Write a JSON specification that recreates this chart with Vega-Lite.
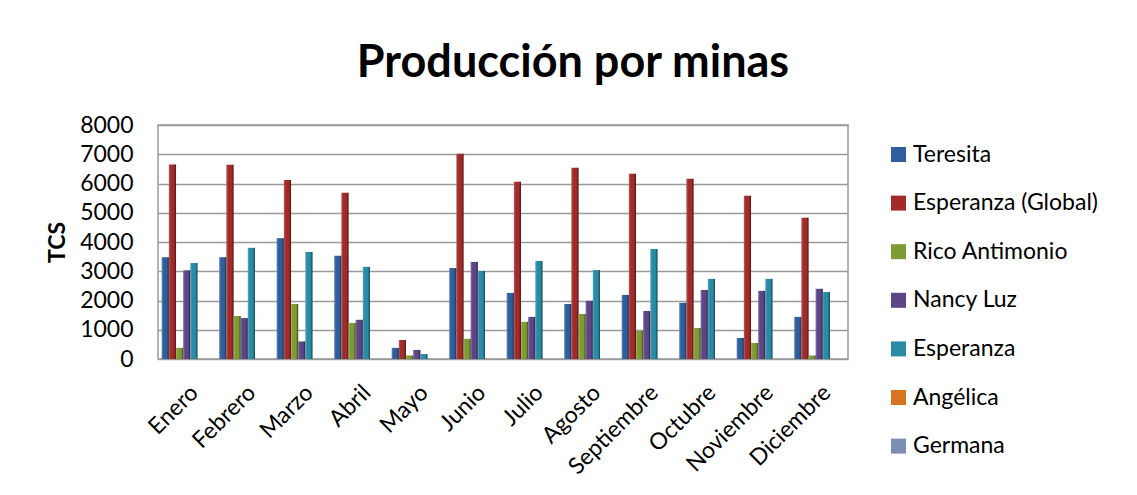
{
  "$schema": "https://vega.github.io/schema/vega-lite/v6.json",
  "autosize": {"type": "none"},
  "width": 690,
  "height": 234,
  "padding": {"left": 158, "top": 125, "right": 289, "bottom": 136},
  "background": "white",
  "title": {"text": "Producción por minas", "font": "Lato", "fontSize": 45, "fontWeight": "bold", "color": "#000000", "anchor": "middle", "frame": "group", "dx": 70, "offset": 28},
  "data": {"values": [
    {"mes":"Enero","mina":"Teresita","tcs":3480},{"mes":"Enero","mina":"Esperanza (Global)","tcs":6650},{"mes":"Enero","mina":"Rico Antimonio","tcs":380},{"mes":"Enero","mina":"Nancy Luz","tcs":3030},{"mes":"Enero","mina":"Esperanza","tcs":3280},{"mes":"Enero","mina":"Angélica","tcs":0},{"mes":"Enero","mina":"Germana","tcs":0},
    {"mes":"Febrero","mina":"Teresita","tcs":3480},{"mes":"Febrero","mina":"Esperanza (Global)","tcs":6640},{"mes":"Febrero","mina":"Rico Antimonio","tcs":1470},{"mes":"Febrero","mina":"Nancy Luz","tcs":1400},{"mes":"Febrero","mina":"Esperanza","tcs":3800},{"mes":"Febrero","mina":"Angélica","tcs":0},{"mes":"Febrero","mina":"Germana","tcs":0},
    {"mes":"Marzo","mina":"Teresita","tcs":4130},{"mes":"Marzo","mina":"Esperanza (Global)","tcs":6120},{"mes":"Marzo","mina":"Rico Antimonio","tcs":1880},{"mes":"Marzo","mina":"Nancy Luz","tcs":600},{"mes":"Marzo","mina":"Esperanza","tcs":3660},{"mes":"Marzo","mina":"Angélica","tcs":0},{"mes":"Marzo","mina":"Germana","tcs":0},
    {"mes":"Abril","mina":"Teresita","tcs":3530},{"mes":"Abril","mina":"Esperanza (Global)","tcs":5680},{"mes":"Abril","mina":"Rico Antimonio","tcs":1230},{"mes":"Abril","mina":"Nancy Luz","tcs":1340},{"mes":"Abril","mina":"Esperanza","tcs":3150},{"mes":"Abril","mina":"Angélica","tcs":0},{"mes":"Abril","mina":"Germana","tcs":0},
    {"mes":"Mayo","mina":"Teresita","tcs":380},{"mes":"Mayo","mina":"Esperanza (Global)","tcs":650},{"mes":"Mayo","mina":"Rico Antimonio","tcs":120},{"mes":"Mayo","mina":"Nancy Luz","tcs":310},{"mes":"Mayo","mina":"Esperanza","tcs":170},{"mes":"Mayo","mina":"Angélica","tcs":0},{"mes":"Mayo","mina":"Germana","tcs":0},
    {"mes":"Junio","mina":"Teresita","tcs":3110},{"mes":"Junio","mina":"Esperanza (Global)","tcs":7020},{"mes":"Junio","mina":"Rico Antimonio","tcs":690},{"mes":"Junio","mina":"Nancy Luz","tcs":3320},{"mes":"Junio","mina":"Esperanza","tcs":3010},{"mes":"Junio","mina":"Angélica","tcs":0},{"mes":"Junio","mina":"Germana","tcs":0},
    {"mes":"Julio","mina":"Teresita","tcs":2260},{"mes":"Julio","mina":"Esperanza (Global)","tcs":6060},{"mes":"Julio","mina":"Rico Antimonio","tcs":1270},{"mes":"Julio","mina":"Nancy Luz","tcs":1440},{"mes":"Julio","mina":"Esperanza","tcs":3350},{"mes":"Julio","mina":"Angélica","tcs":0},{"mes":"Julio","mina":"Germana","tcs":0},
    {"mes":"Agosto","mina":"Teresita","tcs":1880},{"mes":"Agosto","mina":"Esperanza (Global)","tcs":6540},{"mes":"Agosto","mina":"Rico Antimonio","tcs":1540},{"mes":"Agosto","mina":"Nancy Luz","tcs":1990},{"mes":"Agosto","mina":"Esperanza","tcs":3040},{"mes":"Agosto","mina":"Angélica","tcs":0},{"mes":"Agosto","mina":"Germana","tcs":0},
    {"mes":"Septiembre","mina":"Teresita","tcs":2190},{"mes":"Septiembre","mina":"Esperanza (Global)","tcs":6330},{"mes":"Septiembre","mina":"Rico Antimonio","tcs":960},{"mes":"Septiembre","mina":"Nancy Luz","tcs":1640},{"mes":"Septiembre","mina":"Esperanza","tcs":3760},{"mes":"Septiembre","mina":"Angélica","tcs":0},{"mes":"Septiembre","mina":"Germana","tcs":0},
    {"mes":"Octubre","mina":"Teresita","tcs":1920},{"mes":"Octubre","mina":"Esperanza (Global)","tcs":6160},{"mes":"Octubre","mina":"Rico Antimonio","tcs":1060},{"mes":"Octubre","mina":"Nancy Luz","tcs":2360},{"mes":"Octubre","mina":"Esperanza","tcs":2740},{"mes":"Octubre","mina":"Angélica","tcs":0},{"mes":"Octubre","mina":"Germana","tcs":0},
    {"mes":"Noviembre","mina":"Teresita","tcs":720},{"mes":"Noviembre","mina":"Esperanza (Global)","tcs":5580},{"mes":"Noviembre","mina":"Rico Antimonio","tcs":550},{"mes":"Noviembre","mina":"Nancy Luz","tcs":2330},{"mes":"Noviembre","mina":"Esperanza","tcs":2740},{"mes":"Noviembre","mina":"Angélica","tcs":0},{"mes":"Noviembre","mina":"Germana","tcs":0},
    {"mes":"Diciembre","mina":"Teresita","tcs":1440},{"mes":"Diciembre","mina":"Esperanza (Global)","tcs":4830},{"mes":"Diciembre","mina":"Rico Antimonio","tcs":120},{"mes":"Diciembre","mina":"Nancy Luz","tcs":2400},{"mes":"Diciembre","mina":"Esperanza","tcs":2290},{"mes":"Diciembre","mina":"Angélica","tcs":0},{"mes":"Diciembre","mina":"Germana","tcs":0}
  ]},
  "encoding": {
    "x": {
      "field": "mes", "type": "nominal", "sort": null,
      "scale": {"paddingInner": 0.13, "paddingOuter": 0.065},
      "axis": {"title": null, "labelAngle": -45, "labelAlign": "right", "labelBaseline": "top", "labelFont": "Lato", "labelFontSize": 23, "labelColor": "#000000", "labelPadding": 22, "labelOverlap": false, "ticks": false, "domain": false, "grid": false}
    },
    "xOffset": {"field": "mina", "type": "nominal", "sort": ["Teresita","Esperanza (Global)","Rico Antimonio","Nancy Luz","Esperanza","Angélica","Germana"]},
    "y": {
      "field": "tcs", "type": "quantitative",
      "scale": {"domain": [0, 8000], "nice": false},
      "axis": {"title": "TCS", "titleFont": "Lato", "titleFontSize": 23, "titleFontWeight": "bold", "titleColor": "#000000", "titlePadding": 10, "values": [0,1000,2000,3000,4000,5000,6000,7000,8000], "format": "d", "labelFont": "Lato", "labelFontSize": 23, "labelColor": "#000000", "labelPadding": 25, "ticks": false, "domain": false, "grid": true, "gridColor": "#9a9a9a", "gridWidth": 1.5}
    }
  },
  "layer": [
    {
      "mark": {"type": "bar"},
      "encoding": {
        "color": {
          "field": "mina", "type": "nominal",
          "sort": ["Teresita","Esperanza (Global)","Rico Antimonio","Nancy Luz","Esperanza","Angélica","Germana"],
          "scale": {"domain": ["Teresita","Esperanza (Global)","Rico Antimonio","Nancy Luz","Esperanza","Angélica","Germana"], "range": ["#2E5E9C","#A22B2A","#7E9C33","#5E4587","#2A8BA6","#D8741F","#7B8DB0"]},
          "legend": {"title": null, "orient": "none", "legendX": 729, "legendY": 18, "symbolType": "square", "symbolSize": 225, "symbolStrokeWidth": 0, "labelFont": "Lato", "labelFontSize": 23, "labelColor": "#000000", "labelOffset": 3, "labelLimit": 300, "rowPadding": 24.6}
        }
      }
    },
    {
      "mark": {"type": "bar", "fill": {"gradient": "linear", "x1": 0, "x2": 1, "y1": 0, "y2": 0, "stops": [{"offset": 0, "color": "rgba(255,255,255,0.25)"}, {"offset": 0.25, "color": "rgba(255,255,255,0)"}, {"offset": 0.7, "color": "rgba(0,0,0,0)"}, {"offset": 1, "color": "rgba(0,0,0,0.5)"}]}, "stroke": null}
    }
  ],
  "config": {"view": {"stroke": "#9a9a9a", "strokeWidth": 1.5}}
}
